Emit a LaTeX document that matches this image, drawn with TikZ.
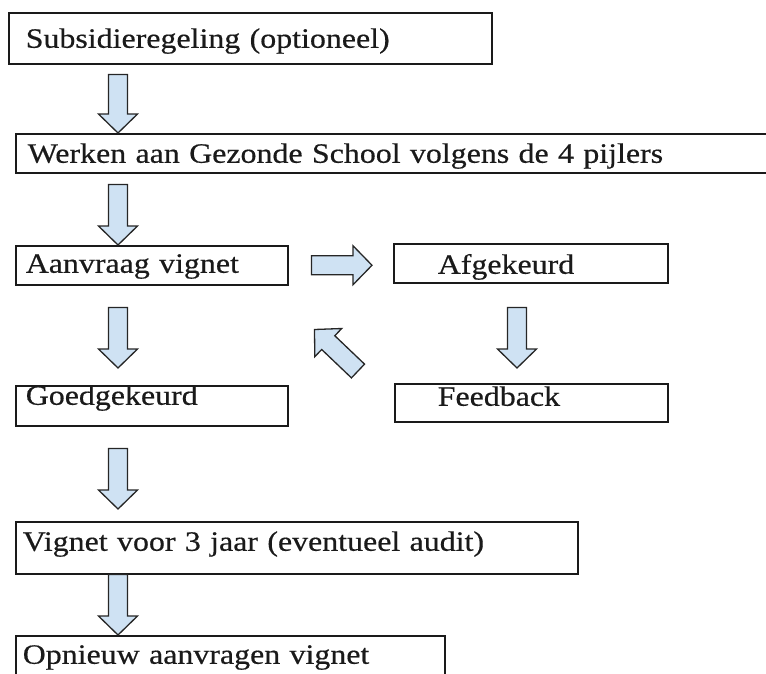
\documentclass[tikz,border=0pt]{standalone}
\usepackage{fontspec}
\setmainfont{Liberation Serif}[FakeStretch=1.14, FakeBold=0.5]
\usepackage{xcolor}
\usetikzlibrary{calc}
\definecolor{pijlblauw}{HTML}{CFE2F3}
\definecolor{pijlrand}{HTML}{262626}
\definecolor{tekst}{HTML}{1A1A1A}
\tikzset{
    blok/.style = {draw=tekst, line width=1.5pt, anchor=north west, inner ysep=0pt,
        align=left, text=tekst, font=\fontsize{28}{32}\selectfont},
    blokpijl/.style = {draw=pijlrand, fill=pijlblauw, line width=1.3pt, line join=miter,
        to path={(\tikztostart) coordinate (ps) (\tikztotarget) coordinate (pt)
            ($(ps)!9.5pt!90:(pt)$) -- ($(pt)!19pt!(ps)!9.5pt!90:(pt)$)
            -- ($(pt)!19pt!(ps)!19.5pt!90:(pt)$) -- (pt)
            -- ($(pt)!19pt!(ps)!19.5pt!-90:(pt)$) -- ($(pt)!19pt!(ps)!9.5pt!-90:(pt)$)
            -- ($(ps)!9.5pt!-90:(pt)$) -- cycle}}
}

\begin{document}
\begin{tikzpicture}[x=1pt, y=-1pt]
    \clip (0,0) rectangle (766,673);
    % kolommen voor de pijlen
    \coordinate (as) at (118,0);
    \coordinate (ar) at (517,0);

    \node[blok, inner xsep=17pt, text width=449pt, text height=35pt, text depth=16pt] (sub) at (8,12) {Subsidieregeling (optioneel)};
    \node[blok, inner xsep=12pt, text width=776pt, text height=29pt, text depth=10pt] (werk) at (15,133) {Werken aan Gezonde School volgens de 4 pijlers};
    \node[blok, inner xsep=10pt, text width=252pt, text height=27pt, text depth=12pt] (aanv) at (15,245) {Aanvraag vignet};
    \node[blok, inner xsep=44pt, text width=186pt, text height=30pt, text depth=9pt] (afgek) at (393,243) {Afgekeurd};
    \node[blok, inner xsep=43pt, text width=187pt, text height=22pt, text depth=16pt] (feedb) at (394,383) {Feedback};
    \node[blok, inner xsep=10pt, text width=252pt, text height=19pt, text depth=21pt] (goed) at (15,385) {Goedgekeurd};
    \node[blok, inner xsep=7pt, text width=548pt, text height=29pt, text depth=23pt] (vign) at (15,521) {Vignet voor 3 jaar (eventueel audit)};
    \node[blok, inner xsep=7pt, text width=415pt, text height=28pt, text depth=17pt] (opn) at (15,635) {Opnieuw aanvragen vignet};

    \draw[blokpijl] ($(sub.south -| as)+(0,10)$) to (werk.north -| as);
    \draw[blokpijl] ($(werk.south -| as)+(0,11)$) to (aanv.north -| as);
    \draw[blokpijl] ($(aanv.south -| as)+(0,22)$) to ($(goed.north -| as)+(0,-17)$);
    \draw[blokpijl] ($(goed.south -| as)+(0,22)$) to ($(vign.north -| as)+(0,-12)$);
    \draw[blokpijl] (vign.south -| as) to (opn.north -| as);
    \draw[blokpijl] ($(aanv.east)+(23,0)$) to ($(afgek.west |- aanv.east)+(-21,0)$);
    \draw[blokpijl] ($(afgek.south -| ar)+(0,24)$) to ($(feedb.north -| ar)+(0,-15)$);
    \draw[blokpijl] ($(feedb.north west)+(-36,-12)$) to ($(aanv.south east)+(26,44)$);
\end{tikzpicture}
\end{document}
